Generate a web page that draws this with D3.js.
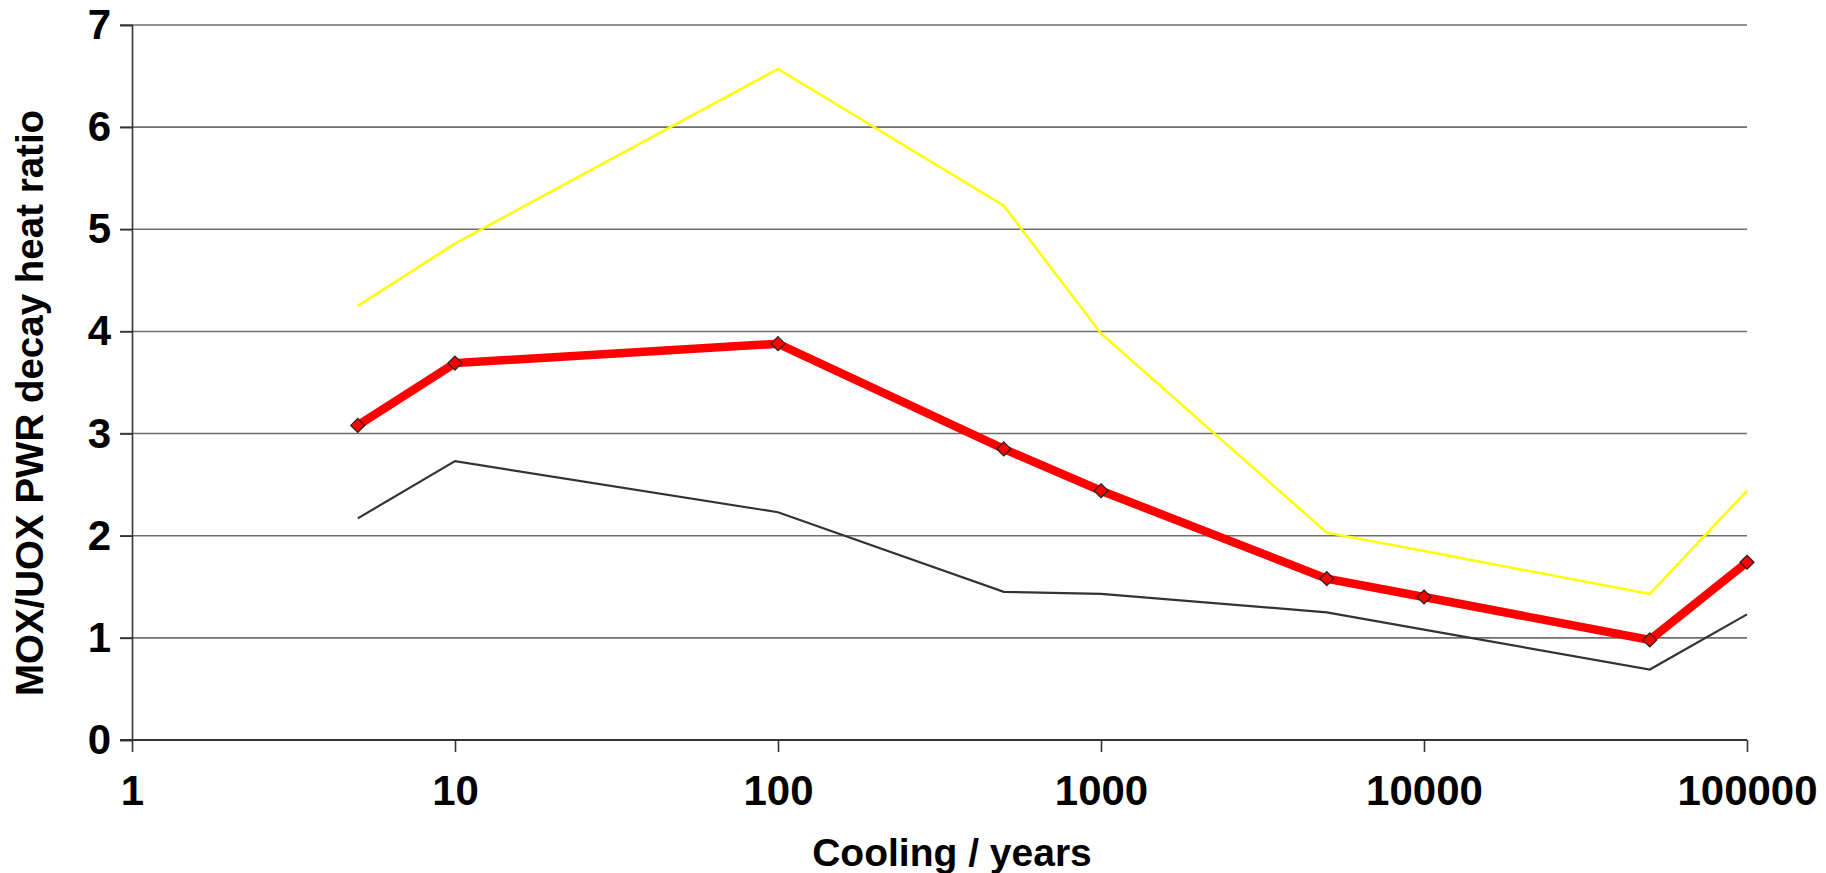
<!DOCTYPE html>
<html>
<head>
<meta charset="utf-8">
<script src="https://cdn.jsdelivr.net/npm/d3@7"></script>
<style>
  html, body { margin: 0; padding: 0; background: #fff; }
  svg { display: block; font-family: "Liberation Sans", Arial, sans-serif; font-weight: bold; }
</style>
</head>
<body>
<svg id="chart" width="1826" height="873"></svg>
<script>
// Data
const coolingYears = [5, 10, 100, 500, 1000, 5000, 10000, 50000, 100000];
const ratioMain   = [3.08, 3.69, 3.88, 2.85, 2.44, 1.58, 1.40, 0.98, 1.74];
const ratioUpper  = [4.25, 4.86, 6.57, 5.23, 3.98, 2.03, 1.85, 1.43, 2.44];
const ratioLower  = [2.17, 2.73, 2.23, 1.45, 1.43, 1.25, 1.08, 0.69, 1.23];
const xTicks = [1, 10, 100, 1000, 10000, 100000];
const yTicks = [0, 1, 2, 3, 4, 5, 6, 7];
const xTitle = "Cooling / years";
const yTitle = "MOX/UOX PWR decay heat ratio";

const svg = d3.select("#chart");
const margin = { left: 132, right: 79, top: 25, bottom: 133 };
const W = 1826, H = 873;

const x = d3.scaleLog().domain([1, 100000]).range([margin.left, W - margin.right]);
const y = d3.scaleLinear().domain([0, 7]).range([H - margin.bottom, margin.top]);

// Gridlines (with outward tick extension)
svg.append("g").selectAll("line").data(yTicks.filter(d => d > 0)).join("line")
  .attr("x1", margin.left - 12).attr("x2", x(100000))
  .attr("y1", d => y(d)).attr("y2", d => y(d))
  .attr("stroke", "#6e6e6e").attr("stroke-width", 1.6);

// Y axis
const yAxis = d3.axisLeft(y).tickValues(yTicks).tickSize(12).tickPadding(9).tickFormat(d3.format("d"));
const gy = svg.append("g").attr("transform", `translate(${margin.left},0)`).call(yAxis);
gy.select(".domain").attr("stroke", "#333").attr("stroke-width", 1.6);
gy.selectAll(".tick line").attr("stroke", "#333").attr("stroke-width", 1.6);
gy.selectAll(".tick text").attr("font-size", 42).attr("font-weight", "bold")
  .attr("fill", "#000").attr("font-family", "Liberation Sans, Arial, sans-serif");

// X axis
const xAxis = d3.axisBottom(x).tickValues(xTicks).tickSize(12).tickPadding(23).tickFormat(d3.format("d"));
const gx = svg.append("g").attr("transform", `translate(0,${y(0)})`).call(xAxis);
gx.select(".domain").attr("stroke", "#333").attr("stroke-width", 2)
  .attr("d", `M${margin.left - 12},0H${x(100000)}`);
gx.selectAll(".tick line").attr("stroke", "#333").attr("stroke-width", 1.6);
gx.selectAll(".tick text").attr("font-size", 42).attr("font-weight", "bold")
  .attr("fill", "#000").attr("font-family", "Liberation Sans, Arial, sans-serif");

// Lines
const line = d3.line().x((d, i) => x(coolingYears[i])).y(d => y(d));

svg.append("path").datum(ratioUpper).attr("d", line)
  .attr("fill", "none").attr("stroke", "#ffff00").attr("stroke-width", 2.5).attr("stroke-linejoin", "miter");
svg.append("path").datum(ratioLower).attr("d", line)
  .attr("fill", "none").attr("stroke", "#333333").attr("stroke-width", 2.2).attr("stroke-linejoin", "miter");
svg.append("path").datum(ratioMain).attr("d", line)
  .attr("fill", "none").attr("stroke", "#ff0000").attr("stroke-width", 8.5).attr("stroke-linejoin", "miter");

// Markers (diamonds)
svg.append("g").selectAll("path").data(ratioMain).join("path")
  .attr("transform", (d, i) => `translate(${x(coolingYears[i])},${y(d)})`)
  .attr("d", "M0,-7L7,0L0,7L-7,0Z")
  .attr("fill", "#ff0000").attr("stroke", "#222").attr("stroke-width", 1.2);

// Axis titles
svg.append("text").attr("x", 952).attr("y", 866).attr("text-anchor", "middle")
  .attr("font-size", 39).attr("fill", "#000").text(xTitle);
svg.append("text").attr("transform", `translate(43,403) rotate(-90)`).attr("text-anchor", "middle")
  .attr("font-size", 38.5).attr("fill", "#000").text(yTitle);
</script>
</body>
</html>
